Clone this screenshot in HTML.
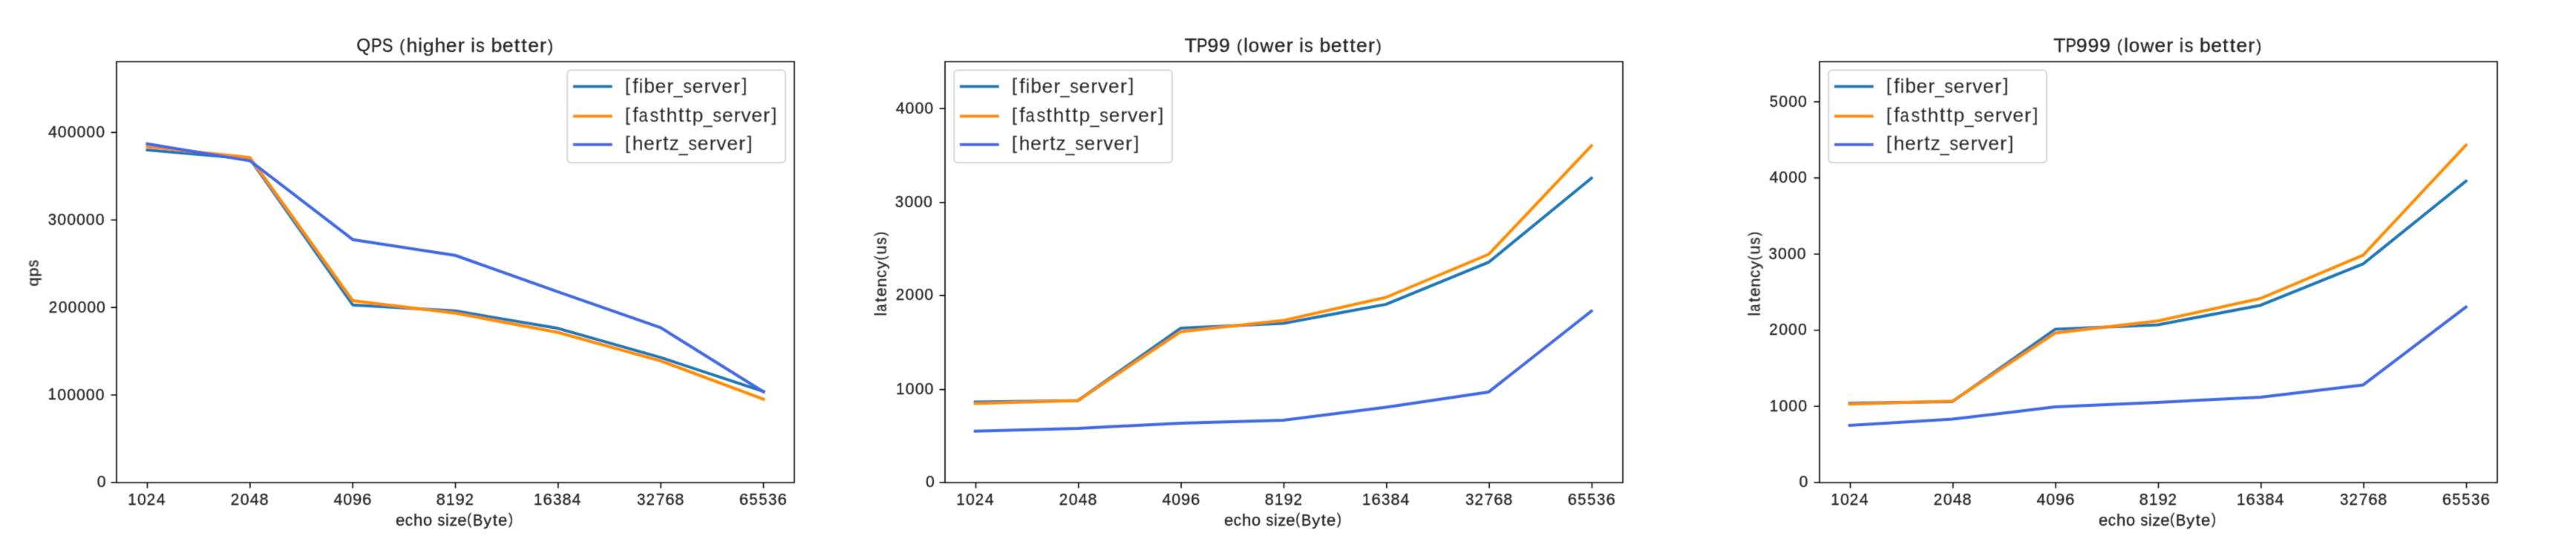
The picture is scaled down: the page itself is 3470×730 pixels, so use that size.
<!DOCTYPE html>
<html><head><meta charset="utf-8"><title>benchmark</title>
<style>html,body{margin:0;padding:0;background:#fff;width:3470px;height:730px;overflow:hidden}</style>
</head><body>
<svg width="3470" height="730" viewBox="0 0 3470 730" style="display:block">
<defs><filter id="bl" x="0" y="0" width="3470" height="730" filterUnits="userSpaceOnUse"><feConvolveMatrix order="3" kernelMatrix="0.02768 0.11101 0.02768 0.11101 0.44521 0.11101 0.02768 0.11101 0.02768" preserveAlpha="false" edgeMode="duplicate"/></filter>
<clipPath id="c0"><rect x="157" y="83" width="913" height="567"/></clipPath>
<clipPath id="c1"><rect x="1273" y="83" width="913" height="567"/></clipPath>
<clipPath id="c2"><rect x="2451" y="83" width="913" height="567"/></clipPath>
</defs>
<rect x="0" y="0" width="3470" height="730" fill="#fff"/>
<g filter="url(#bl)">
<g clip-path="url(#c0)" fill="none" stroke-width="4.0" stroke-linejoin="round" stroke-linecap="square">
<polyline points="198.50,201.90 336.83,214.00 475.17,410.70 613.50,418.80 751.83,442.30 890.17,481.60 1028.50,527.30" stroke="#1f77b4"/>
<polyline points="198.50,197.40 336.83,212.30 475.17,404.90 613.50,421.80 751.83,447.70 890.17,486.10 1028.50,537.70" stroke="#ff8c00"/>
<polyline points="198.50,193.80 336.83,216.60 475.17,322.70 613.50,344.00 751.83,393.10 890.17,441.40 1028.50,527.70" stroke="#4169e1"/>
</g>
<g stroke="#000" stroke-width="1.6" fill="none">
<path d="M156.2,83 H1070.8 M156.2,650 H1070.8 M157,83 V650 M1070,83 V650"/>
<path d="M198.50,650 V657.5M336.83,650 V657.5M475.17,650 V657.5M613.50,650 V657.5M751.83,650 V657.5M890.17,650 V657.5M1028.50,650 V657.5M157,649.80 H149.5M157,531.95 H149.5M157,414.10 H149.5M157,296.25 H149.5M157,178.40 H149.5"/>
</g>
<g font-family='"Liberation Sans", sans-serif' fill="#222" stroke="#222" stroke-width="0.3">
<g font-size="20" ><text transform="translate(178.16,680.00) scale(1.022,1.060)" x="-5.83" y="0.00">1</text><text transform="translate(190.89,680.00) scale(1.070,1.068)" x="-5.56" y="0.07">0</text><text transform="translate(203.54,680.00) scale(1.031,1.063)" x="-5.56" y="0.00">2</text><text transform="translate(216.65,680.00) scale(1.070,1.060)" x="-5.50" y="0.00">4</text></g>
<g font-size="20" ><text transform="translate(316.54,680.00) scale(1.031,1.063)" x="-5.56" y="0.00">2</text><text transform="translate(329.72,680.00) scale(1.070,1.068)" x="-5.56" y="0.07">0</text><text transform="translate(342.57,680.00) scale(1.070,1.060)" x="-5.50" y="0.00">4</text><text transform="translate(355.55,680.00) scale(1.082,1.068)" x="-5.56" y="0.07">8</text></g>
<g font-size="20" ><text transform="translate(455.26,680.00) scale(1.070,1.060)" x="-5.50" y="0.00">4</text><text transform="translate(468.25,680.00) scale(1.070,1.068)" x="-5.56" y="0.07">0</text><text transform="translate(481.09,680.00) scale(1.105,1.068)" x="-5.56" y="0.07">9</text><text transform="translate(494.15,680.00) scale(1.107,1.068)" x="-5.63" y="0.07">6</text></g>
<g font-size="20" ><text transform="translate(593.85,680.00) scale(1.082,1.068)" x="-5.56" y="0.07">8</text><text transform="translate(606.95,680.00) scale(1.022,1.060)" x="-5.83" y="0.00">1</text><text transform="translate(619.61,680.00) scale(1.105,1.068)" x="-5.56" y="0.07">9</text><text transform="translate(632.33,680.00) scale(1.031,1.063)" x="-5.56" y="0.00">2</text></g>
<g font-size="20" ><text transform="translate(725.04,680.00) scale(1.022,1.060)" x="-5.83" y="0.00">1</text><text transform="translate(737.84,680.00) scale(1.107,1.068)" x="-5.63" y="0.07">6</text><text transform="translate(750.65,680.00) scale(1.028,1.068)" x="-5.50" y="0.07">3</text><text transform="translate(763.60,680.00) scale(1.082,1.068)" x="-5.56" y="0.07">8</text><text transform="translate(776.44,680.00) scale(1.070,1.060)" x="-5.50" y="0.00">4</text></g>
<g font-size="20" ><text transform="translate(863.62,680.00) scale(1.028,1.068)" x="-5.50" y="0.07">3</text><text transform="translate(876.30,680.00) scale(1.031,1.063)" x="-5.56" y="0.00">2</text><text transform="translate(889.45,680.00) scale(1.047,1.060)" x="-5.57" y="0.00">7</text><text transform="translate(902.47,680.00) scale(1.107,1.068)" x="-5.63" y="0.07">6</text><text transform="translate(915.31,680.00) scale(1.082,1.068)" x="-5.56" y="0.07">8</text></g>
<g font-size="20" ><text transform="translate(1002.07,680.00) scale(1.107,1.068)" x="-5.63" y="0.07">6</text><text transform="translate(1014.81,680.00) scale(1.010,1.065)" x="-5.54" y="0.07">5</text><text transform="translate(1027.73,680.00) scale(1.010,1.065)" x="-5.54" y="0.07">5</text><text transform="translate(1040.71,680.00) scale(1.028,1.068)" x="-5.50" y="0.07">3</text><text transform="translate(1053.73,680.00) scale(1.107,1.068)" x="-5.63" y="0.07">6</text></g>
<g font-size="20" ><text transform="translate(136.66,656.28) scale(1.065,1.068)" x="-5.56" y="0.07">0</text></g>
<g font-size="20" ><text transform="translate(70.53,538.43) scale(1.017,1.060)" x="-5.83" y="0.00">1</text><text transform="translate(83.20,538.43) scale(1.065,1.068)" x="-5.56" y="0.07">0</text><text transform="translate(96.05,538.43) scale(1.065,1.068)" x="-5.56" y="0.07">0</text><text transform="translate(108.91,538.43) scale(1.065,1.068)" x="-5.56" y="0.07">0</text><text transform="translate(121.76,538.43) scale(1.065,1.068)" x="-5.56" y="0.07">0</text><text transform="translate(134.61,538.43) scale(1.065,1.068)" x="-5.56" y="0.07">0</text></g>
<g font-size="20" ><text transform="translate(71.48,420.58) scale(1.026,1.063)" x="-5.56" y="0.00">2</text><text transform="translate(84.60,420.58) scale(1.065,1.068)" x="-5.56" y="0.07">0</text><text transform="translate(97.45,420.58) scale(1.065,1.068)" x="-5.56" y="0.07">0</text><text transform="translate(110.31,420.58) scale(1.065,1.068)" x="-5.56" y="0.07">0</text><text transform="translate(123.16,420.58) scale(1.065,1.068)" x="-5.56" y="0.07">0</text><text transform="translate(136.01,420.58) scale(1.065,1.068)" x="-5.56" y="0.07">0</text></g>
<g font-size="20" ><text transform="translate(70.32,302.73) scale(1.022,1.068)" x="-5.50" y="0.07">3</text><text transform="translate(83.20,302.73) scale(1.065,1.068)" x="-5.56" y="0.07">0</text><text transform="translate(96.05,302.73) scale(1.065,1.068)" x="-5.56" y="0.07">0</text><text transform="translate(108.91,302.73) scale(1.065,1.068)" x="-5.56" y="0.07">0</text><text transform="translate(121.76,302.73) scale(1.065,1.068)" x="-5.56" y="0.07">0</text><text transform="translate(134.61,302.73) scale(1.065,1.068)" x="-5.56" y="0.07">0</text></g>
<g font-size="20" ><text transform="translate(70.78,184.88) scale(1.065,1.060)" x="-5.50" y="0.00">4</text><text transform="translate(83.70,184.88) scale(1.065,1.068)" x="-5.56" y="0.07">0</text><text transform="translate(96.55,184.88) scale(1.065,1.068)" x="-5.56" y="0.07">0</text><text transform="translate(109.41,184.88) scale(1.065,1.068)" x="-5.56" y="0.07">0</text><text transform="translate(122.26,184.88) scale(1.065,1.068)" x="-5.56" y="0.07">0</text><text transform="translate(135.11,184.88) scale(1.065,1.068)" x="-5.56" y="0.07">0</text></g>
<g font-size="24" ><text transform="translate(489.58,70.20) scale(1.011,0.982)" x="-9.33" y="-1.38">Q</text><text transform="translate(507.44,70.20) scale(0.905,1.060)" x="-8.36" y="0.00">P</text><text transform="translate(521.97,70.20) scale(0.912,1.068)" x="-8.00" y="0.08">S</text><text transform="translate(542.31,70.20) scale(0.880,0.956)" x="-4.67" y="-1.66">(</text><text transform="translate(554.88,70.20) scale(1.111,1.049)" x="-6.73" y="0.00">h</text><text transform="translate(566.00,70.20) scale(1.046,1.049)" x="-2.66" y="0.00">i</text><text transform="translate(576.76,70.20) scale(1.112,1.032)" x="-6.40" y="-0.14">g</text><text transform="translate(592.85,70.20) scale(1.111,1.049)" x="-6.73" y="0.00">h</text><text transform="translate(608.13,70.20) scale(1.105,1.048)" x="-6.65" y="0.09">e</text><text transform="translate(621.83,70.20) scale(1.120,1.041)" x="-4.59" y="0.00">r</text><text transform="translate(636.98,70.20) scale(1.046,1.049)" x="-2.66" y="0.00">i</text><text transform="translate(646.85,70.20) scale(0.981,1.051)" x="-5.90" y="0.09">s</text><text transform="translate(669.22,70.20) scale(1.113,1.054)" x="-6.94" y="0.09">b</text><text transform="translate(684.15,70.20) scale(1.105,1.048)" x="-6.65" y="0.09">e</text><text transform="translate(696.52,70.20) scale(1.120,1.073)" x="-3.43" y="-0.19">t</text><text transform="translate(706.15,70.20) scale(1.120,1.073)" x="-3.43" y="-0.19">t</text><text transform="translate(718.51,70.20) scale(1.105,1.048)" x="-6.65" y="0.09">e</text><text transform="translate(732.20,70.20) scale(1.120,1.041)" x="-4.59" y="0.00">r</text><text transform="translate(740.85,70.20) scale(0.880,0.956)" x="-3.32" y="-1.66">)</text></g>
<g font-size="20" ><text transform="translate(539.20,707.70) scale(1.108,1.064)" x="-5.54" y="0.07">e</text><text transform="translate(551.05,707.70) scale(1.029,1.064)" x="-5.16" y="0.07">c</text><text transform="translate(563.32,707.70) scale(1.113,1.101)" x="-5.61" y="0.00">h</text><text transform="translate(576.04,707.70) scale(1.090,1.064)" x="-5.56" y="0.07">o</text><text transform="translate(594.23,707.70) scale(0.983,1.067)" x="-4.92" y="0.07">s</text><text transform="translate(602.37,707.70) scale(1.048,1.101)" x="-2.22" y="0.00">i</text><text transform="translate(610.59,707.70) scale(1.099,1.051)" x="-4.91" y="0.00">z</text><text transform="translate(622.30,707.70) scale(1.108,1.064)" x="-5.54" y="0.07">e</text><text transform="translate(632.65,707.70) scale(0.880,1.004)" x="-3.89" y="-1.38">(</text><text transform="translate(643.91,707.70) scale(0.996,1.113)" x="-6.96" y="0.00">B</text><text transform="translate(656.73,707.70) scale(1.101,1.041)" x="-5.00" y="-0.10">y</text><text transform="translate(666.85,707.70) scale(1.120,1.127)" x="-2.86" y="-0.16">t</text><text transform="translate(677.17,707.70) scale(1.108,1.064)" x="-5.54" y="0.07">e</text><text transform="translate(687.40,707.70) scale(0.880,1.004)" x="-2.77" y="-1.38">)</text></g>
<g transform="translate(51.5,0) rotate(-90)" font-size="20" ><text transform="translate(-379.94,0.00) scale(1.101,1.046)" x="-5.34" y="-0.11">q</text><text transform="translate(-366.34,0.00) scale(1.103,1.046)" x="-5.79" y="-0.11">p</text><text transform="translate(-354.94,0.00) scale(0.972,1.067)" x="-4.92" y="0.07">s</text></g>
</g>
<rect x="764.20" y="94.6" width="293.8" height="124.5" rx="4.8" ry="4.8" fill="#fff" fill-opacity="0.8" stroke="#d6d6d6" stroke-width="2"/>
<path d="M773.80,116.6 H822.80" stroke="#1f77b4" stroke-width="4.0" stroke-linecap="square"/>
<g font-size="24" font-family='"Liberation Sans", sans-serif' fill="#222" stroke="#222" stroke-width="0.3"><text transform="translate(846.33,124.90) scale(1.062,1.014)" x="-4.10" y="-1.67">[</text><text transform="translate(856.06,124.90) scale(1.120,1.113)" x="-3.52" y="0.00">f</text><text transform="translate(863.26,124.90) scale(1.042,1.111)" x="-2.66" y="0.00">i</text><text transform="translate(874.86,124.90) scale(1.109,1.117)" x="-6.94" y="0.09">b</text><text transform="translate(889.73,124.90) scale(1.101,1.067)" x="-6.65" y="0.09">e</text><text transform="translate(903.37,124.90) scale(1.120,1.060)" x="-4.59" y="-0.00">r</text><text transform="translate(913.40,124.90) scale(0.909,1.120)" x="-6.63" y="0.38">_</text><text transform="translate(925.96,124.90) scale(0.977,1.070)" x="-5.90" y="0.09">s</text><text transform="translate(939.81,124.90) scale(1.101,1.067)" x="-6.65" y="0.09">e</text><text transform="translate(953.45,124.90) scale(1.120,1.060)" x="-4.59" y="-0.00">r</text><text transform="translate(964.61,124.90) scale(1.100,1.054)" x="-6.00" y="0.00">v</text><text transform="translate(979.40,124.90) scale(1.101,1.067)" x="-6.65" y="0.09">e</text><text transform="translate(993.04,124.90) scale(1.120,1.060)" x="-4.59" y="-0.00">r</text><text transform="translate(1001.87,124.90) scale(1.062,1.014)" x="-2.57" y="-1.67">]</text></g>
<path d="M773.80,156.6 H822.80" stroke="#ff8c00" stroke-width="4.0" stroke-linecap="square"/>
<g font-size="24" font-family='"Liberation Sans", sans-serif' fill="#222" stroke="#222" stroke-width="0.3"><text transform="translate(846.33,164.20) scale(1.062,1.014)" x="-4.10" y="-1.67">[</text><text transform="translate(856.07,164.20) scale(1.120,1.113)" x="-3.52" y="0.00">f</text><text transform="translate(866.98,164.20) scale(0.917,1.067)" x="-7.18" y="0.09">a</text><text transform="translate(881.30,164.20) scale(0.978,1.070)" x="-5.90" y="0.09">s</text><text transform="translate(892.44,164.20) scale(1.120,1.138)" x="-3.43" y="-0.19">t</text><text transform="translate(905.03,164.20) scale(1.107,1.111)" x="-6.73" y="0.00">h</text><text transform="translate(917.55,164.20) scale(1.120,1.138)" x="-3.43" y="-0.19">t</text><text transform="translate(927.15,164.20) scale(1.120,1.138)" x="-3.43" y="-0.19">t</text><text transform="translate(940.12,164.20) scale(1.109,1.049)" x="-6.94" y="-0.14">p</text><text transform="translate(953.56,164.20) scale(0.909,1.120)" x="-6.63" y="0.38">_</text><text transform="translate(966.12,164.20) scale(0.978,1.070)" x="-5.90" y="0.09">s</text><text transform="translate(979.99,164.20) scale(1.101,1.067)" x="-6.65" y="0.09">e</text><text transform="translate(993.63,164.20) scale(1.120,1.060)" x="-4.59" y="-0.00">r</text><text transform="translate(1004.79,164.20) scale(1.101,1.054)" x="-6.00" y="0.00">v</text><text transform="translate(1019.59,164.20) scale(1.101,1.067)" x="-6.65" y="0.09">e</text><text transform="translate(1033.24,164.20) scale(1.120,1.060)" x="-4.59" y="-0.00">r</text><text transform="translate(1042.07,164.20) scale(1.062,1.014)" x="-2.57" y="-1.67">]</text></g>
<path d="M773.80,194.7 H822.80" stroke="#4169e1" stroke-width="4.0" stroke-linecap="square"/>
<g font-size="24" font-family='"Liberation Sans", sans-serif' fill="#222" stroke="#222" stroke-width="0.3"><text transform="translate(846.34,202.30) scale(1.063,1.014)" x="-4.10" y="-1.67">[</text><text transform="translate(859.08,202.30) scale(1.108,1.111)" x="-6.73" y="0.00">h</text><text transform="translate(874.33,202.30) scale(1.102,1.067)" x="-6.65" y="0.09">e</text><text transform="translate(887.99,202.30) scale(1.120,1.060)" x="-4.59" y="-0.00">r</text><text transform="translate(896.75,202.30) scale(1.120,1.138)" x="-3.43" y="-0.19">t</text><text transform="translate(907.94,202.30) scale(1.094,1.054)" x="-5.89" y="0.00">z</text><text transform="translate(920.49,202.30) scale(0.910,1.120)" x="-6.63" y="0.38">_</text><text transform="translate(933.06,202.30) scale(0.978,1.070)" x="-5.90" y="0.09">s</text><text transform="translate(946.94,202.30) scale(1.102,1.067)" x="-6.65" y="0.09">e</text><text transform="translate(960.59,202.30) scale(1.120,1.060)" x="-4.59" y="-0.00">r</text><text transform="translate(971.76,202.30) scale(1.101,1.054)" x="-6.00" y="0.00">v</text><text transform="translate(986.57,202.30) scale(1.102,1.067)" x="-6.65" y="0.09">e</text><text transform="translate(1000.23,202.30) scale(1.120,1.060)" x="-4.59" y="-0.00">r</text><text transform="translate(1009.06,202.30) scale(1.063,1.014)" x="-2.57" y="-1.67">]</text></g>
<g clip-path="url(#c1)" fill="none" stroke-width="4.0" stroke-linejoin="round" stroke-linecap="square">
<polyline points="1313.70,541.50 1452.03,539.50 1590.37,442.10 1728.70,435.50 1867.03,409.90 2005.37,353.20 2143.70,240.00" stroke="#1f77b4"/>
<polyline points="1313.70,543.40 1452.03,539.60 1590.37,446.80 1728.70,431.60 1867.03,400.50 2005.37,342.50 2143.70,196.30" stroke="#ff8c00"/>
<polyline points="1313.70,580.80 1452.03,577.00 1590.37,569.90 1728.70,566.00 1867.03,548.45 2005.37,527.90 2143.70,419.00" stroke="#4169e1"/>
</g>
<g stroke="#000" stroke-width="1.6" fill="none">
<path d="M1272.2,83 H2186.8 M1272.2,650 H2186.8 M1273,83 V650 M2186,83 V650"/>
<path d="M1314.50,650 V657.5M1452.83,650 V657.5M1591.17,650 V657.5M1729.50,650 V657.5M1867.83,650 V657.5M2006.17,650 V657.5M2144.50,650 V657.5M1273,649.80 H1265.5M1273,524.67 H1265.5M1273,397.84 H1265.5M1273,272.78 H1265.5M1273,146.25 H1265.5"/>
</g>
<g font-family='"Liberation Sans", sans-serif' fill="#222" stroke="#222" stroke-width="0.3">
<g font-size="20" ><text transform="translate(1294.16,680.00) scale(1.022,1.060)" x="-5.83" y="0.00">1</text><text transform="translate(1306.89,680.00) scale(1.070,1.068)" x="-5.56" y="0.07">0</text><text transform="translate(1319.54,680.00) scale(1.031,1.063)" x="-5.56" y="0.00">2</text><text transform="translate(1332.65,680.00) scale(1.070,1.060)" x="-5.50" y="0.00">4</text></g>
<g font-size="20" ><text transform="translate(1432.54,680.00) scale(1.031,1.063)" x="-5.56" y="0.00">2</text><text transform="translate(1445.72,680.00) scale(1.070,1.068)" x="-5.56" y="0.07">0</text><text transform="translate(1458.57,680.00) scale(1.070,1.060)" x="-5.50" y="0.00">4</text><text transform="translate(1471.55,680.00) scale(1.082,1.068)" x="-5.56" y="0.07">8</text></g>
<g font-size="20" ><text transform="translate(1571.26,680.00) scale(1.070,1.060)" x="-5.50" y="0.00">4</text><text transform="translate(1584.25,680.00) scale(1.070,1.068)" x="-5.56" y="0.07">0</text><text transform="translate(1597.09,680.00) scale(1.105,1.068)" x="-5.56" y="0.07">9</text><text transform="translate(1610.15,680.00) scale(1.107,1.068)" x="-5.63" y="0.07">6</text></g>
<g font-size="20" ><text transform="translate(1709.85,680.00) scale(1.082,1.068)" x="-5.56" y="0.07">8</text><text transform="translate(1722.95,680.00) scale(1.022,1.060)" x="-5.83" y="0.00">1</text><text transform="translate(1735.61,680.00) scale(1.105,1.068)" x="-5.56" y="0.07">9</text><text transform="translate(1748.33,680.00) scale(1.031,1.063)" x="-5.56" y="0.00">2</text></g>
<g font-size="20" ><text transform="translate(1841.04,680.00) scale(1.022,1.060)" x="-5.83" y="0.00">1</text><text transform="translate(1853.84,680.00) scale(1.107,1.068)" x="-5.63" y="0.07">6</text><text transform="translate(1866.65,680.00) scale(1.028,1.068)" x="-5.50" y="0.07">3</text><text transform="translate(1879.60,680.00) scale(1.082,1.068)" x="-5.56" y="0.07">8</text><text transform="translate(1892.44,680.00) scale(1.070,1.060)" x="-5.50" y="0.00">4</text></g>
<g font-size="20" ><text transform="translate(1979.62,680.00) scale(1.028,1.068)" x="-5.50" y="0.07">3</text><text transform="translate(1992.30,680.00) scale(1.031,1.063)" x="-5.56" y="0.00">2</text><text transform="translate(2005.45,680.00) scale(1.047,1.060)" x="-5.57" y="0.00">7</text><text transform="translate(2018.47,680.00) scale(1.107,1.068)" x="-5.63" y="0.07">6</text><text transform="translate(2031.31,680.00) scale(1.082,1.068)" x="-5.56" y="0.07">8</text></g>
<g font-size="20" ><text transform="translate(2118.07,680.00) scale(1.107,1.068)" x="-5.63" y="0.07">6</text><text transform="translate(2130.81,680.00) scale(1.010,1.065)" x="-5.54" y="0.07">5</text><text transform="translate(2143.73,680.00) scale(1.010,1.065)" x="-5.54" y="0.07">5</text><text transform="translate(2156.71,680.00) scale(1.028,1.068)" x="-5.50" y="0.07">3</text><text transform="translate(2169.73,680.00) scale(1.107,1.068)" x="-5.63" y="0.07">6</text></g>
<g font-size="20" ><text transform="translate(1252.81,656.28) scale(1.065,1.068)" x="-5.56" y="0.07">0</text></g>
<g font-size="20" ><text transform="translate(1213.04,531.15) scale(1.017,1.060)" x="-5.83" y="0.00">1</text><text transform="translate(1225.71,531.15) scale(1.065,1.068)" x="-5.56" y="0.07">0</text><text transform="translate(1238.56,531.15) scale(1.065,1.068)" x="-5.56" y="0.07">0</text><text transform="translate(1251.41,531.15) scale(1.065,1.068)" x="-5.56" y="0.07">0</text></g>
<g font-size="20" ><text transform="translate(1212.33,404.32) scale(1.026,1.063)" x="-5.56" y="0.00">2</text><text transform="translate(1225.45,404.32) scale(1.065,1.068)" x="-5.56" y="0.07">0</text><text transform="translate(1238.30,404.32) scale(1.065,1.068)" x="-5.56" y="0.07">0</text><text transform="translate(1251.15,404.32) scale(1.065,1.068)" x="-5.56" y="0.07">0</text></g>
<g font-size="20" ><text transform="translate(1211.42,279.26) scale(1.022,1.068)" x="-5.50" y="0.07">3</text><text transform="translate(1224.31,279.26) scale(1.065,1.068)" x="-5.56" y="0.07">0</text><text transform="translate(1237.16,279.26) scale(1.065,1.068)" x="-5.56" y="0.07">0</text><text transform="translate(1250.01,279.26) scale(1.065,1.068)" x="-5.56" y="0.07">0</text></g>
<g font-size="20" ><text transform="translate(1212.59,152.73) scale(1.065,1.060)" x="-5.50" y="0.00">4</text><text transform="translate(1225.51,152.73) scale(1.065,1.068)" x="-5.56" y="0.07">0</text><text transform="translate(1238.36,152.73) scale(1.065,1.068)" x="-5.56" y="0.07">0</text><text transform="translate(1251.21,152.73) scale(1.065,1.068)" x="-5.56" y="0.07">0</text></g>
<g font-size="24" ><text transform="translate(1603.86,70.20) scale(1.115,1.060)" x="-7.32" y="0.00">T</text><text transform="translate(1619.53,70.20) scale(0.904,1.060)" x="-8.36" y="0.00">P</text><text transform="translate(1633.86,70.20) scale(1.113,1.068)" x="-6.67" y="0.08">9</text><text transform="translate(1649.46,70.20) scale(1.113,1.068)" x="-6.67" y="0.08">9</text><text transform="translate(1670.01,70.20) scale(0.880,0.956)" x="-4.67" y="-1.66">(</text><text transform="translate(1678.14,70.20) scale(1.045,1.049)" x="-2.67" y="0.00">l</text><text transform="translate(1689.05,70.20) scale(1.086,1.048)" x="-6.67" y="0.09">o</text><text transform="translate(1706.58,70.20) scale(1.033,1.035)" x="-8.68" y="0.00">w</text><text transform="translate(1724.18,70.20) scale(1.104,1.048)" x="-6.65" y="0.09">e</text><text transform="translate(1737.85,70.20) scale(1.120,1.041)" x="-4.59" y="0.00">r</text><text transform="translate(1752.99,70.20) scale(1.045,1.049)" x="-2.66" y="0.00">i</text><text transform="translate(1762.85,70.20) scale(0.980,1.051)" x="-5.90" y="0.09">s</text><text transform="translate(1785.20,70.20) scale(1.112,1.054)" x="-6.94" y="0.09">b</text><text transform="translate(1800.11,70.20) scale(1.104,1.048)" x="-6.65" y="0.09">e</text><text transform="translate(1812.47,70.20) scale(1.120,1.073)" x="-3.43" y="-0.19">t</text><text transform="translate(1822.09,70.20) scale(1.120,1.073)" x="-3.43" y="-0.19">t</text><text transform="translate(1834.43,70.20) scale(1.104,1.048)" x="-6.65" y="0.09">e</text><text transform="translate(1848.11,70.20) scale(1.120,1.041)" x="-4.59" y="0.00">r</text><text transform="translate(1856.75,70.20) scale(0.880,0.956)" x="-3.32" y="-1.66">)</text></g>
<g font-size="20" ><text transform="translate(1655.20,707.70) scale(1.108,1.064)" x="-5.54" y="0.07">e</text><text transform="translate(1667.05,707.70) scale(1.029,1.064)" x="-5.16" y="0.07">c</text><text transform="translate(1679.32,707.70) scale(1.113,1.101)" x="-5.61" y="0.00">h</text><text transform="translate(1692.04,707.70) scale(1.090,1.064)" x="-5.56" y="0.07">o</text><text transform="translate(1710.23,707.70) scale(0.983,1.067)" x="-4.92" y="0.07">s</text><text transform="translate(1718.37,707.70) scale(1.048,1.101)" x="-2.22" y="0.00">i</text><text transform="translate(1726.59,707.70) scale(1.099,1.051)" x="-4.91" y="0.00">z</text><text transform="translate(1738.30,707.70) scale(1.108,1.064)" x="-5.54" y="0.07">e</text><text transform="translate(1748.65,707.70) scale(0.880,1.004)" x="-3.89" y="-1.38">(</text><text transform="translate(1759.91,707.70) scale(0.996,1.113)" x="-6.96" y="0.00">B</text><text transform="translate(1772.73,707.70) scale(1.101,1.041)" x="-5.00" y="-0.10">y</text><text transform="translate(1782.85,707.70) scale(1.120,1.127)" x="-2.86" y="-0.16">t</text><text transform="translate(1793.17,707.70) scale(1.108,1.064)" x="-5.54" y="0.07">e</text><text transform="translate(1803.40,707.70) scale(0.880,1.004)" x="-2.77" y="-1.38">)</text></g>
<g transform="translate(1193.8,0) rotate(-90)" font-size="20" ><text transform="translate(-423.08,0.00) scale(1.042,1.101)" x="-2.23" y="0.00">l</text><text transform="translate(-414.32,0.00) scale(0.917,1.064)" x="-5.99" y="0.07">a</text><text transform="translate(-403.73,0.00) scale(1.120,1.127)" x="-2.86" y="-0.16">t</text><text transform="translate(-393.47,0.00) scale(1.101,1.064)" x="-5.54" y="0.07">e</text><text transform="translate(-380.69,0.00) scale(1.099,1.056)" x="-5.58" y="0.00">n</text><text transform="translate(-368.75,0.00) scale(1.023,1.064)" x="-5.16" y="0.07">c</text><text transform="translate(-357.04,0.00) scale(1.095,1.041)" x="-5.00" y="-0.10">y</text><text transform="translate(-346.97,0.00) scale(0.880,1.004)" x="-3.89" y="-1.38">(</text><text transform="translate(-336.65,0.00) scale(1.099,1.083)" x="-5.55" y="0.07">u</text><text transform="translate(-324.76,0.00) scale(0.977,1.067)" x="-4.92" y="0.07">s</text><text transform="translate(-315.59,0.00) scale(0.880,1.004)" x="-2.77" y="-1.38">)</text></g>
</g>
<rect x="1285.20" y="94.6" width="293.8" height="124.5" rx="4.8" ry="4.8" fill="#fff" fill-opacity="0.8" stroke="#d6d6d6" stroke-width="2"/>
<path d="M1294.80,116.6 H1343.80" stroke="#1f77b4" stroke-width="4.0" stroke-linecap="square"/>
<g font-size="24" font-family='"Liberation Sans", sans-serif' fill="#222" stroke="#222" stroke-width="0.3"><text transform="translate(1367.33,124.90) scale(1.062,1.014)" x="-4.10" y="-1.67">[</text><text transform="translate(1377.06,124.90) scale(1.120,1.113)" x="-3.52" y="0.00">f</text><text transform="translate(1384.26,124.90) scale(1.042,1.111)" x="-2.66" y="0.00">i</text><text transform="translate(1395.86,124.90) scale(1.109,1.117)" x="-6.94" y="0.09">b</text><text transform="translate(1410.73,124.90) scale(1.101,1.067)" x="-6.65" y="0.09">e</text><text transform="translate(1424.37,124.90) scale(1.120,1.060)" x="-4.59" y="-0.00">r</text><text transform="translate(1434.40,124.90) scale(0.909,1.120)" x="-6.63" y="0.38">_</text><text transform="translate(1446.96,124.90) scale(0.977,1.070)" x="-5.90" y="0.09">s</text><text transform="translate(1460.81,124.90) scale(1.101,1.067)" x="-6.65" y="0.09">e</text><text transform="translate(1474.45,124.90) scale(1.120,1.060)" x="-4.59" y="-0.00">r</text><text transform="translate(1485.61,124.90) scale(1.100,1.054)" x="-6.00" y="0.00">v</text><text transform="translate(1500.40,124.90) scale(1.101,1.067)" x="-6.65" y="0.09">e</text><text transform="translate(1514.04,124.90) scale(1.120,1.060)" x="-4.59" y="-0.00">r</text><text transform="translate(1522.87,124.90) scale(1.062,1.014)" x="-2.57" y="-1.67">]</text></g>
<path d="M1294.80,156.6 H1343.80" stroke="#ff8c00" stroke-width="4.0" stroke-linecap="square"/>
<g font-size="24" font-family='"Liberation Sans", sans-serif' fill="#222" stroke="#222" stroke-width="0.3"><text transform="translate(1367.33,164.20) scale(1.062,1.014)" x="-4.10" y="-1.67">[</text><text transform="translate(1377.07,164.20) scale(1.120,1.113)" x="-3.52" y="0.00">f</text><text transform="translate(1387.98,164.20) scale(0.917,1.067)" x="-7.18" y="0.09">a</text><text transform="translate(1402.30,164.20) scale(0.978,1.070)" x="-5.90" y="0.09">s</text><text transform="translate(1413.44,164.20) scale(1.120,1.138)" x="-3.43" y="-0.19">t</text><text transform="translate(1426.03,164.20) scale(1.107,1.111)" x="-6.73" y="0.00">h</text><text transform="translate(1438.55,164.20) scale(1.120,1.138)" x="-3.43" y="-0.19">t</text><text transform="translate(1448.15,164.20) scale(1.120,1.138)" x="-3.43" y="-0.19">t</text><text transform="translate(1461.12,164.20) scale(1.109,1.049)" x="-6.94" y="-0.14">p</text><text transform="translate(1474.56,164.20) scale(0.909,1.120)" x="-6.63" y="0.38">_</text><text transform="translate(1487.12,164.20) scale(0.978,1.070)" x="-5.90" y="0.09">s</text><text transform="translate(1500.99,164.20) scale(1.101,1.067)" x="-6.65" y="0.09">e</text><text transform="translate(1514.63,164.20) scale(1.120,1.060)" x="-4.59" y="-0.00">r</text><text transform="translate(1525.79,164.20) scale(1.101,1.054)" x="-6.00" y="0.00">v</text><text transform="translate(1540.59,164.20) scale(1.101,1.067)" x="-6.65" y="0.09">e</text><text transform="translate(1554.24,164.20) scale(1.120,1.060)" x="-4.59" y="-0.00">r</text><text transform="translate(1563.07,164.20) scale(1.062,1.014)" x="-2.57" y="-1.67">]</text></g>
<path d="M1294.80,194.7 H1343.80" stroke="#4169e1" stroke-width="4.0" stroke-linecap="square"/>
<g font-size="24" font-family='"Liberation Sans", sans-serif' fill="#222" stroke="#222" stroke-width="0.3"><text transform="translate(1367.34,202.30) scale(1.063,1.014)" x="-4.10" y="-1.67">[</text><text transform="translate(1380.08,202.30) scale(1.108,1.111)" x="-6.73" y="0.00">h</text><text transform="translate(1395.33,202.30) scale(1.102,1.067)" x="-6.65" y="0.09">e</text><text transform="translate(1408.99,202.30) scale(1.120,1.060)" x="-4.59" y="-0.00">r</text><text transform="translate(1417.75,202.30) scale(1.120,1.138)" x="-3.43" y="-0.19">t</text><text transform="translate(1428.94,202.30) scale(1.094,1.054)" x="-5.89" y="0.00">z</text><text transform="translate(1441.49,202.30) scale(0.910,1.120)" x="-6.63" y="0.38">_</text><text transform="translate(1454.06,202.30) scale(0.978,1.070)" x="-5.90" y="0.09">s</text><text transform="translate(1467.94,202.30) scale(1.102,1.067)" x="-6.65" y="0.09">e</text><text transform="translate(1481.59,202.30) scale(1.120,1.060)" x="-4.59" y="-0.00">r</text><text transform="translate(1492.76,202.30) scale(1.101,1.054)" x="-6.00" y="0.00">v</text><text transform="translate(1507.57,202.30) scale(1.102,1.067)" x="-6.65" y="0.09">e</text><text transform="translate(1521.23,202.30) scale(1.120,1.060)" x="-4.59" y="-0.00">r</text><text transform="translate(1530.06,202.30) scale(1.063,1.014)" x="-2.57" y="-1.67">]</text></g>
<g clip-path="url(#c2)" fill="none" stroke-width="4.0" stroke-linejoin="round" stroke-linecap="square">
<polyline points="2491.70,542.90 2630.03,540.90 2768.37,443.60 2906.70,437.50 3045.03,411.20 3183.37,355.40 3321.70,244.00" stroke="#1f77b4"/>
<polyline points="2491.70,544.30 2630.03,540.30 2768.37,448.60 2906.70,432.30 3045.03,402.00 3183.37,343.60 3321.70,195.50" stroke="#ff8c00"/>
<polyline points="2491.70,573.00 2630.03,564.60 2768.37,548.10 2906.70,541.90 3045.03,534.90 3183.37,518.45 3321.70,413.50" stroke="#4169e1"/>
</g>
<g stroke="#000" stroke-width="1.6" fill="none">
<path d="M2450.2,83 H3364.8 M2450.2,650 H3364.8 M2451,83 V650 M3364,83 V650"/>
<path d="M2492.50,650 V657.5M2630.83,650 V657.5M2769.17,650 V657.5M2907.50,650 V657.5M3045.83,650 V657.5M3184.17,650 V657.5M3322.50,650 V657.5M2451,649.80 H2443.5M2451,547.26 H2443.5M2451,444.72 H2443.5M2451,342.18 H2443.5M2451,239.64 H2443.5M2451,137.10 H2443.5"/>
</g>
<g font-family='"Liberation Sans", sans-serif' fill="#222" stroke="#222" stroke-width="0.3">
<g font-size="20" ><text transform="translate(2472.16,680.00) scale(1.022,1.060)" x="-5.83" y="0.00">1</text><text transform="translate(2484.89,680.00) scale(1.070,1.068)" x="-5.56" y="0.07">0</text><text transform="translate(2497.54,680.00) scale(1.031,1.063)" x="-5.56" y="0.00">2</text><text transform="translate(2510.65,680.00) scale(1.070,1.060)" x="-5.50" y="0.00">4</text></g>
<g font-size="20" ><text transform="translate(2610.54,680.00) scale(1.031,1.063)" x="-5.56" y="0.00">2</text><text transform="translate(2623.72,680.00) scale(1.070,1.068)" x="-5.56" y="0.07">0</text><text transform="translate(2636.57,680.00) scale(1.070,1.060)" x="-5.50" y="0.00">4</text><text transform="translate(2649.55,680.00) scale(1.082,1.068)" x="-5.56" y="0.07">8</text></g>
<g font-size="20" ><text transform="translate(2749.26,680.00) scale(1.070,1.060)" x="-5.50" y="0.00">4</text><text transform="translate(2762.25,680.00) scale(1.070,1.068)" x="-5.56" y="0.07">0</text><text transform="translate(2775.09,680.00) scale(1.105,1.068)" x="-5.56" y="0.07">9</text><text transform="translate(2788.15,680.00) scale(1.107,1.068)" x="-5.63" y="0.07">6</text></g>
<g font-size="20" ><text transform="translate(2887.85,680.00) scale(1.082,1.068)" x="-5.56" y="0.07">8</text><text transform="translate(2900.95,680.00) scale(1.022,1.060)" x="-5.83" y="0.00">1</text><text transform="translate(2913.61,680.00) scale(1.105,1.068)" x="-5.56" y="0.07">9</text><text transform="translate(2926.33,680.00) scale(1.031,1.063)" x="-5.56" y="0.00">2</text></g>
<g font-size="20" ><text transform="translate(3019.04,680.00) scale(1.022,1.060)" x="-5.83" y="0.00">1</text><text transform="translate(3031.84,680.00) scale(1.107,1.068)" x="-5.63" y="0.07">6</text><text transform="translate(3044.65,680.00) scale(1.028,1.068)" x="-5.50" y="0.07">3</text><text transform="translate(3057.60,680.00) scale(1.082,1.068)" x="-5.56" y="0.07">8</text><text transform="translate(3070.44,680.00) scale(1.070,1.060)" x="-5.50" y="0.00">4</text></g>
<g font-size="20" ><text transform="translate(3157.62,680.00) scale(1.028,1.068)" x="-5.50" y="0.07">3</text><text transform="translate(3170.30,680.00) scale(1.031,1.063)" x="-5.56" y="0.00">2</text><text transform="translate(3183.45,680.00) scale(1.047,1.060)" x="-5.57" y="0.00">7</text><text transform="translate(3196.47,680.00) scale(1.107,1.068)" x="-5.63" y="0.07">6</text><text transform="translate(3209.31,680.00) scale(1.082,1.068)" x="-5.56" y="0.07">8</text></g>
<g font-size="20" ><text transform="translate(3296.07,680.00) scale(1.107,1.068)" x="-5.63" y="0.07">6</text><text transform="translate(3308.81,680.00) scale(1.010,1.065)" x="-5.54" y="0.07">5</text><text transform="translate(3321.73,680.00) scale(1.010,1.065)" x="-5.54" y="0.07">5</text><text transform="translate(3334.71,680.00) scale(1.028,1.068)" x="-5.50" y="0.07">3</text><text transform="translate(3347.73,680.00) scale(1.107,1.068)" x="-5.63" y="0.07">6</text></g>
<g font-size="20" ><text transform="translate(2429.51,656.28) scale(1.065,1.068)" x="-5.56" y="0.07">0</text></g>
<g font-size="20" ><text transform="translate(2389.74,553.74) scale(1.017,1.060)" x="-5.83" y="0.00">1</text><text transform="translate(2402.41,553.74) scale(1.065,1.068)" x="-5.56" y="0.07">0</text><text transform="translate(2415.26,553.74) scale(1.065,1.068)" x="-5.56" y="0.07">0</text><text transform="translate(2428.11,553.74) scale(1.065,1.068)" x="-5.56" y="0.07">0</text></g>
<g font-size="20" ><text transform="translate(2389.03,451.20) scale(1.026,1.063)" x="-5.56" y="0.00">2</text><text transform="translate(2402.15,451.20) scale(1.065,1.068)" x="-5.56" y="0.07">0</text><text transform="translate(2415.00,451.20) scale(1.065,1.068)" x="-5.56" y="0.07">0</text><text transform="translate(2427.85,451.20) scale(1.065,1.068)" x="-5.56" y="0.07">0</text></g>
<g font-size="20" ><text transform="translate(2388.12,348.66) scale(1.022,1.068)" x="-5.50" y="0.07">3</text><text transform="translate(2401.01,348.66) scale(1.065,1.068)" x="-5.56" y="0.07">0</text><text transform="translate(2413.86,348.66) scale(1.065,1.068)" x="-5.56" y="0.07">0</text><text transform="translate(2426.71,348.66) scale(1.065,1.068)" x="-5.56" y="0.07">0</text></g>
<g font-size="20" ><text transform="translate(2389.29,246.12) scale(1.065,1.060)" x="-5.50" y="0.00">4</text><text transform="translate(2402.21,246.12) scale(1.065,1.068)" x="-5.56" y="0.07">0</text><text transform="translate(2415.06,246.12) scale(1.065,1.068)" x="-5.56" y="0.07">0</text><text transform="translate(2427.91,246.12) scale(1.065,1.068)" x="-5.56" y="0.07">0</text></g>
<g font-size="20" ><text transform="translate(2389.26,143.58) scale(1.005,1.065)" x="-5.54" y="0.07">5</text><text transform="translate(2402.21,143.58) scale(1.065,1.068)" x="-5.56" y="0.07">0</text><text transform="translate(2415.06,143.58) scale(1.065,1.068)" x="-5.56" y="0.07">0</text><text transform="translate(2427.91,143.58) scale(1.065,1.068)" x="-5.56" y="0.07">0</text></g>
<g font-size="24" ><text transform="translate(2774.34,70.20) scale(1.111,1.060)" x="-7.32" y="0.00">T</text><text transform="translate(2789.97,70.20) scale(0.901,1.060)" x="-8.36" y="0.00">P</text><text transform="translate(2804.25,70.20) scale(1.110,1.068)" x="-6.67" y="0.08">9</text><text transform="translate(2819.81,70.20) scale(1.110,1.068)" x="-6.67" y="0.08">9</text><text transform="translate(2835.37,70.20) scale(1.110,1.068)" x="-6.67" y="0.08">9</text><text transform="translate(2855.86,70.20) scale(0.880,0.956)" x="-4.67" y="-1.66">(</text><text transform="translate(2863.96,70.20) scale(1.042,1.049)" x="-2.67" y="0.00">l</text><text transform="translate(2874.84,70.20) scale(1.083,1.048)" x="-6.67" y="0.09">o</text><text transform="translate(2892.32,70.20) scale(1.030,1.035)" x="-8.68" y="0.00">w</text><text transform="translate(2909.87,70.20) scale(1.101,1.048)" x="-6.65" y="0.09">e</text><text transform="translate(2923.50,70.20) scale(1.120,1.041)" x="-4.59" y="0.00">r</text><text transform="translate(2938.60,70.20) scale(1.042,1.049)" x="-2.66" y="0.00">i</text><text transform="translate(2948.43,70.20) scale(0.977,1.051)" x="-5.90" y="0.09">s</text><text transform="translate(2970.71,70.20) scale(1.109,1.054)" x="-6.94" y="0.09">b</text><text transform="translate(2985.58,70.20) scale(1.101,1.048)" x="-6.65" y="0.09">e</text><text transform="translate(2997.91,70.20) scale(1.120,1.073)" x="-3.43" y="-0.19">t</text><text transform="translate(3007.50,70.20) scale(1.120,1.073)" x="-3.43" y="-0.19">t</text><text transform="translate(3019.81,70.20) scale(1.101,1.048)" x="-6.65" y="0.09">e</text><text transform="translate(3033.44,70.20) scale(1.120,1.041)" x="-4.59" y="0.00">r</text><text transform="translate(3042.06,70.20) scale(0.880,0.956)" x="-3.32" y="-1.66">)</text></g>
<g font-size="20" ><text transform="translate(2833.20,707.70) scale(1.108,1.064)" x="-5.54" y="0.07">e</text><text transform="translate(2845.05,707.70) scale(1.029,1.064)" x="-5.16" y="0.07">c</text><text transform="translate(2857.32,707.70) scale(1.113,1.101)" x="-5.61" y="0.00">h</text><text transform="translate(2870.04,707.70) scale(1.090,1.064)" x="-5.56" y="0.07">o</text><text transform="translate(2888.23,707.70) scale(0.983,1.067)" x="-4.92" y="0.07">s</text><text transform="translate(2896.37,707.70) scale(1.048,1.101)" x="-2.22" y="0.00">i</text><text transform="translate(2904.59,707.70) scale(1.099,1.051)" x="-4.91" y="0.00">z</text><text transform="translate(2916.30,707.70) scale(1.108,1.064)" x="-5.54" y="0.07">e</text><text transform="translate(2926.65,707.70) scale(0.880,1.004)" x="-3.89" y="-1.38">(</text><text transform="translate(2937.91,707.70) scale(0.996,1.113)" x="-6.96" y="0.00">B</text><text transform="translate(2950.73,707.70) scale(1.101,1.041)" x="-5.00" y="-0.10">y</text><text transform="translate(2960.85,707.70) scale(1.120,1.127)" x="-2.86" y="-0.16">t</text><text transform="translate(2971.17,707.70) scale(1.108,1.064)" x="-5.54" y="0.07">e</text><text transform="translate(2981.40,707.70) scale(0.880,1.004)" x="-2.77" y="-1.38">)</text></g>
<g transform="translate(2370.6,0) rotate(-90)" font-size="20" ><text transform="translate(-423.08,0.00) scale(1.042,1.101)" x="-2.23" y="0.00">l</text><text transform="translate(-414.32,0.00) scale(0.917,1.064)" x="-5.99" y="0.07">a</text><text transform="translate(-403.73,0.00) scale(1.120,1.127)" x="-2.86" y="-0.16">t</text><text transform="translate(-393.47,0.00) scale(1.101,1.064)" x="-5.54" y="0.07">e</text><text transform="translate(-380.69,0.00) scale(1.099,1.056)" x="-5.58" y="0.00">n</text><text transform="translate(-368.75,0.00) scale(1.023,1.064)" x="-5.16" y="0.07">c</text><text transform="translate(-357.04,0.00) scale(1.095,1.041)" x="-5.00" y="-0.10">y</text><text transform="translate(-346.97,0.00) scale(0.880,1.004)" x="-3.89" y="-1.38">(</text><text transform="translate(-336.65,0.00) scale(1.099,1.083)" x="-5.55" y="0.07">u</text><text transform="translate(-324.76,0.00) scale(0.977,1.067)" x="-4.92" y="0.07">s</text><text transform="translate(-315.59,0.00) scale(0.880,1.004)" x="-2.77" y="-1.38">)</text></g>
</g>
<rect x="2463.20" y="94.6" width="293.8" height="124.5" rx="4.8" ry="4.8" fill="#fff" fill-opacity="0.8" stroke="#d6d6d6" stroke-width="2"/>
<path d="M2472.80,116.6 H2521.80" stroke="#1f77b4" stroke-width="4.0" stroke-linecap="square"/>
<g font-size="24" font-family='"Liberation Sans", sans-serif' fill="#222" stroke="#222" stroke-width="0.3"><text transform="translate(2545.33,124.90) scale(1.062,1.014)" x="-4.10" y="-1.67">[</text><text transform="translate(2555.06,124.90) scale(1.120,1.113)" x="-3.52" y="0.00">f</text><text transform="translate(2562.26,124.90) scale(1.042,1.111)" x="-2.66" y="0.00">i</text><text transform="translate(2573.86,124.90) scale(1.109,1.117)" x="-6.94" y="0.09">b</text><text transform="translate(2588.73,124.90) scale(1.101,1.067)" x="-6.65" y="0.09">e</text><text transform="translate(2602.37,124.90) scale(1.120,1.060)" x="-4.59" y="-0.00">r</text><text transform="translate(2612.40,124.90) scale(0.909,1.120)" x="-6.63" y="0.38">_</text><text transform="translate(2624.96,124.90) scale(0.977,1.070)" x="-5.90" y="0.09">s</text><text transform="translate(2638.81,124.90) scale(1.101,1.067)" x="-6.65" y="0.09">e</text><text transform="translate(2652.45,124.90) scale(1.120,1.060)" x="-4.59" y="-0.00">r</text><text transform="translate(2663.61,124.90) scale(1.100,1.054)" x="-6.00" y="0.00">v</text><text transform="translate(2678.40,124.90) scale(1.101,1.067)" x="-6.65" y="0.09">e</text><text transform="translate(2692.04,124.90) scale(1.120,1.060)" x="-4.59" y="-0.00">r</text><text transform="translate(2700.87,124.90) scale(1.062,1.014)" x="-2.57" y="-1.67">]</text></g>
<path d="M2472.80,156.6 H2521.80" stroke="#ff8c00" stroke-width="4.0" stroke-linecap="square"/>
<g font-size="24" font-family='"Liberation Sans", sans-serif' fill="#222" stroke="#222" stroke-width="0.3"><text transform="translate(2545.33,164.20) scale(1.062,1.014)" x="-4.10" y="-1.67">[</text><text transform="translate(2555.07,164.20) scale(1.120,1.113)" x="-3.52" y="0.00">f</text><text transform="translate(2565.98,164.20) scale(0.917,1.067)" x="-7.18" y="0.09">a</text><text transform="translate(2580.30,164.20) scale(0.978,1.070)" x="-5.90" y="0.09">s</text><text transform="translate(2591.44,164.20) scale(1.120,1.138)" x="-3.43" y="-0.19">t</text><text transform="translate(2604.03,164.20) scale(1.107,1.111)" x="-6.73" y="0.00">h</text><text transform="translate(2616.55,164.20) scale(1.120,1.138)" x="-3.43" y="-0.19">t</text><text transform="translate(2626.15,164.20) scale(1.120,1.138)" x="-3.43" y="-0.19">t</text><text transform="translate(2639.12,164.20) scale(1.109,1.049)" x="-6.94" y="-0.14">p</text><text transform="translate(2652.56,164.20) scale(0.909,1.120)" x="-6.63" y="0.38">_</text><text transform="translate(2665.12,164.20) scale(0.978,1.070)" x="-5.90" y="0.09">s</text><text transform="translate(2678.99,164.20) scale(1.101,1.067)" x="-6.65" y="0.09">e</text><text transform="translate(2692.63,164.20) scale(1.120,1.060)" x="-4.59" y="-0.00">r</text><text transform="translate(2703.79,164.20) scale(1.101,1.054)" x="-6.00" y="0.00">v</text><text transform="translate(2718.59,164.20) scale(1.101,1.067)" x="-6.65" y="0.09">e</text><text transform="translate(2732.24,164.20) scale(1.120,1.060)" x="-4.59" y="-0.00">r</text><text transform="translate(2741.07,164.20) scale(1.062,1.014)" x="-2.57" y="-1.67">]</text></g>
<path d="M2472.80,194.7 H2521.80" stroke="#4169e1" stroke-width="4.0" stroke-linecap="square"/>
<g font-size="24" font-family='"Liberation Sans", sans-serif' fill="#222" stroke="#222" stroke-width="0.3"><text transform="translate(2545.34,202.30) scale(1.063,1.014)" x="-4.10" y="-1.67">[</text><text transform="translate(2558.08,202.30) scale(1.108,1.111)" x="-6.73" y="0.00">h</text><text transform="translate(2573.33,202.30) scale(1.102,1.067)" x="-6.65" y="0.09">e</text><text transform="translate(2586.99,202.30) scale(1.120,1.060)" x="-4.59" y="-0.00">r</text><text transform="translate(2595.75,202.30) scale(1.120,1.138)" x="-3.43" y="-0.19">t</text><text transform="translate(2606.94,202.30) scale(1.094,1.054)" x="-5.89" y="0.00">z</text><text transform="translate(2619.49,202.30) scale(0.910,1.120)" x="-6.63" y="0.38">_</text><text transform="translate(2632.06,202.30) scale(0.978,1.070)" x="-5.90" y="0.09">s</text><text transform="translate(2645.94,202.30) scale(1.102,1.067)" x="-6.65" y="0.09">e</text><text transform="translate(2659.59,202.30) scale(1.120,1.060)" x="-4.59" y="-0.00">r</text><text transform="translate(2670.76,202.30) scale(1.101,1.054)" x="-6.00" y="0.00">v</text><text transform="translate(2685.57,202.30) scale(1.102,1.067)" x="-6.65" y="0.09">e</text><text transform="translate(2699.23,202.30) scale(1.120,1.060)" x="-4.59" y="-0.00">r</text><text transform="translate(2708.06,202.30) scale(1.063,1.014)" x="-2.57" y="-1.67">]</text></g>
</g>
</svg>
</body></html>
